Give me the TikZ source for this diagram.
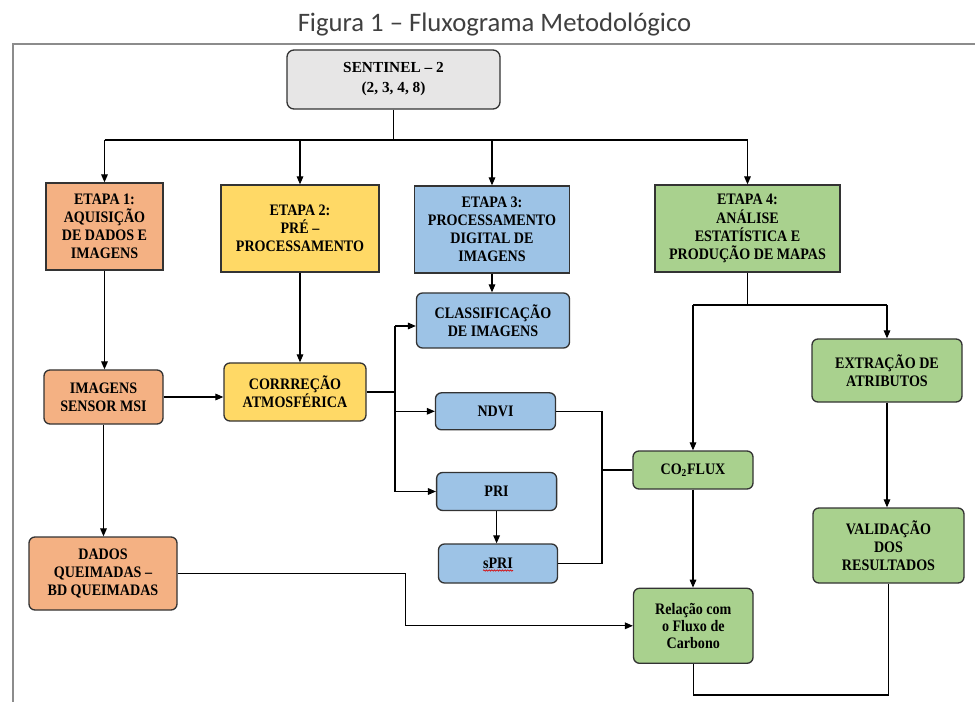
\documentclass[tikz,border=0pt]{standalone}
\usepackage{fontspec}
\usetikzlibrary{arrows.meta,decorations.pathmorphing}
\newfontfamily\boxfont{Liberation Serif}[FakeStretch=0.88]
\newfontfamily\sentfont{Liberation Serif}
\newfontfamily\titlefont{Carlito}
\newdimen\pxu \pxu=0.75pt
\definecolor{cgray}{HTML}{E7E6E6}
\definecolor{corange}{HTML}{F4B183}
\definecolor{cyellow}{HTML}{FFD966}
\definecolor{cblue}{HTML}{9DC3E6}
\definecolor{cgreen}{HTML}{A9D18E}
\definecolor{cedge}{HTML}{333333}
\definecolor{cframe}{HTML}{8C8C8C}
\definecolor{ctitle}{HTML}{404040}
\begin{document}
\begin{tikzpicture}[x=0.75pt,y=-0.75pt,
  box/.style={draw=cedge, line width=1pt, align=center, inner sep=0pt,
    font=\boxfont\bfseries\fontsize{12}{13.6}\selectfont},
  rbox/.style={box, rounded corners=6\pxu},
  wh/.style 2 args={minimum width=#1\pxu, minimum height=#2\pxu},
  conn/.style={line width=0.8pt, black},
  arr/.style={conn, -{Triangle[length=6pt,width=5pt]}},
]
\fill[white] (0,0) rectangle (975,702);
\useasboundingbox (0,0) rectangle (975,702);
% title and frame
\node[font=\titlefont\fontsize{20}{24}\selectfont, text=ctitle, anchor=base] (title) at (494.5,32) {Figura 1 – Fluxograma Metodológico};
\coordinate (fbl) at (13,702);
\coordinate (ftl) at (13,44);
\coordinate (ftr) at (975,44);
\draw[cframe, line width=1.5pt] (fbl) -- (ftl) -- (ftr);
% nodes
\node[box, fill=cgray, rounded corners=7\pxu, wh={213}{59}, font=\sentfont\bfseries\fontsize{11.5}{15}\selectfont] (sent) at (393.5,79.5) {SENTINEL – 2\\(2, 3, 4, 8)};
\node[box, fill=corange, wh={117}{87}] (e1) at (104.5,226.5) {ETAPA 1:\\AQUISIÇÃO\\DE DADOS E\\IMAGENS};
\node[box, fill=cyellow, wh={158}{87}] (e2) at (300,228.5) {ETAPA 2:\\PRÉ –\\PROCESSAMENTO};
\node[box, fill=cblue, wh={155}{87}] (e3) at (492,229.5) {ETAPA 3:\\PROCESSAMENTO\\DIGITAL DE\\IMAGENS};
\node[box, fill=cgreen, wh={185}{87}] (e4) at (747.5,228.5) {ETAPA 4:\\ANÁLISE\\ESTATÍSTICA E\\PRODUÇÃO DE MAPAS};
\node[rbox, fill=cblue, wh={153}{55}] (cls) at (493,320.5) {CLASSIFICAÇÃO\\DE IMAGENS};
\node[rbox, fill=corange, wh={119}{54}] (img) at (103.5,397) {IMAGENS\\SENSOR MSI};
\node[rbox, fill=cyellow, wh={142}{58}] (cor) at (295,392) {CORRREÇÃO\\ATMOSFÉRICA};
\node[rbox, fill=cblue, wh={120}{37}] (ndvi) at (495.5,411.3) {NDVI};
\node[rbox, fill=cblue, wh={120}{38}] (pri) at (496.6,491.5) {PRI};
\node[rbox, fill=cblue, wh={119}{39}] (spri) at (498,563.5) {sPRI};
\node[rbox, fill=cgreen, wh={120}{38}] (co2) at (693,470) {CO\textsubscript{2}FLUX};
\node[rbox, fill=cgreen, wh={150}{63}] (ext) at (887,370.5) {EXTRAÇÃO DE\\ATRIBUTOS};
\node[rbox, fill=cgreen, wh={151}{75}] (val) at (888.5,545.5) {VALIDAÇÃO\\DOS\\RESULTADOS};
\node[rbox, fill=corange, wh={148}{73}] (dad) at (103,573.5) {DADOS\\QUEIMADAS –\\BD QUEIMADAS};
\node[rbox, fill=cgreen, wh={119.5}{75}, font=\boxfont\bfseries\fontsize{12}{12.75}\selectfont] (rel) at (693.3,625.8) {Relação com\\o Fluxo de\\Carbono};
% spell-check squiggle under sPRI
\draw[red!85!black, line width=0.5pt, decorate, decoration={snake, amplitude=0.5pt, segment length=2pt}] ([shift={(-15,7)}]spri.center) -- ([shift={(15,7)}]spri.center);
% connectors
\coordinate (bus) at (393.5,140);
\draw[conn] (sent.south) -- (bus);
\draw[conn] (bus -| e1.north) -- (bus -| e4.north);
\foreach \n in {e1,e2,e3,e4} \draw[arr] (bus -| \n.north) -- (\n.north);
\draw[arr] (e1.south) -- (e1.south |- img.north);
\draw[arr] (e2.south) -- (e2.south |- cor.north);
\draw[arr] (e3.south) -- (e3.south |- cls.north);
\draw[arr] (img.east) -- (img.east -| cor.west);
\draw[arr] (img.south) -- (img.south |- dad.north);
\coordinate (J) at (395,392);
\coordinate (Jt) at (395,326);
\draw[conn] (cor.east) -- (J);
\draw[conn] (Jt) -- (J |- pri.west);
\draw[arr] (Jt) -- (Jt -| cls.west);
\draw[arr] (J |- ndvi.west) -- (ndvi.west);
\draw[arr] (J |- pri.west) -- (pri.west);
\draw[arr] (pri.south) -- (pri.south |- spri.north);
\coordinate (K) at (602,470);
\draw[conn] (ndvi.east) -- (ndvi.east -| K) -- (K |- spri.east) -- (spri.east);
\draw[conn] (K) -- (co2.west);
\coordinate (bus4) at (747.5,305);
\draw[conn] (e4.south) -- (bus4);
\draw[conn] (bus4 -| co2.north) -- (bus4 -| ext.north);
\draw[arr] (bus4 -| co2.north) -- (co2.north);
\draw[arr] (bus4 -| ext.north) -- (ext.north);
\draw[arr] (co2.south) -- (co2.south |- rel.north);
\draw[arr] (ext.south) -- (ext.south |- val.north);
\coordinate (D) at (405.7,625.8);
\draw[arr] (dad.east) -- (dad.east -| D) -- (D) -- (rel.west);
\coordinate (B) at (889,695);
\draw[conn] (val.south) -- (val.south |- B) -- (B -| rel.south) -- (rel.south);
\end{tikzpicture}
\end{document}
